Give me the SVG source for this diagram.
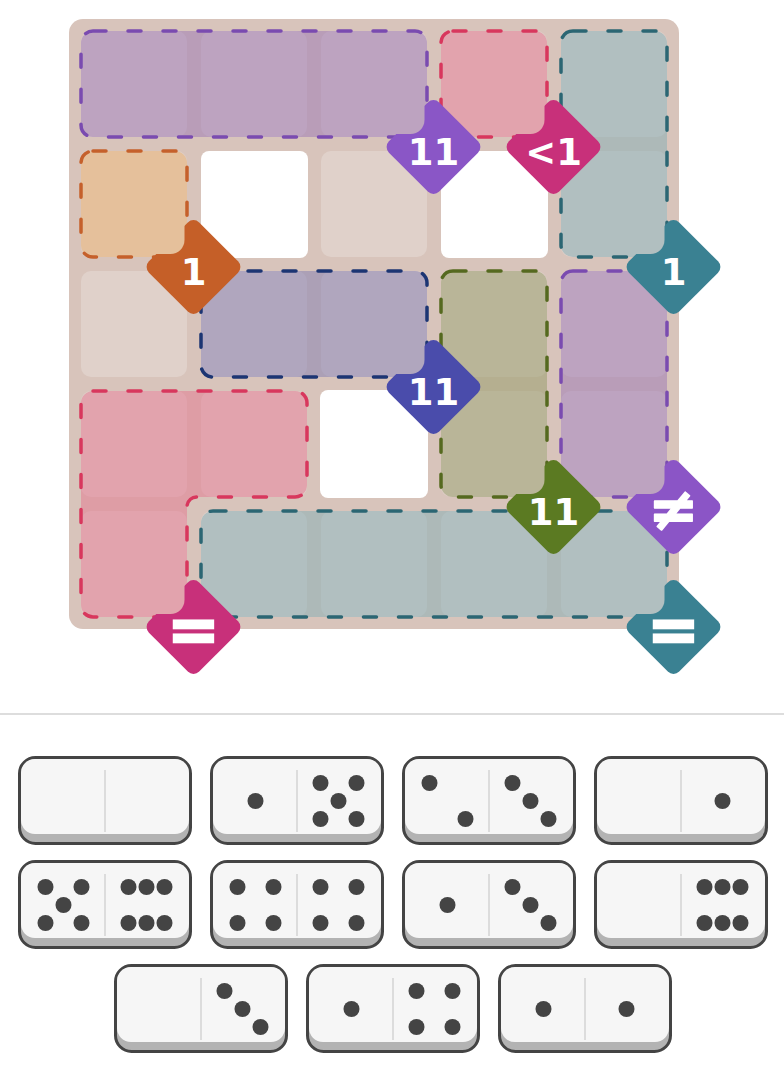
<svg xmlns="http://www.w3.org/2000/svg" width="784" height="1069" viewBox="0 0 784 1069">
<defs>
<style>
.board{fill:#d8c4bb}
.cell{fill:#e0d1ca}
.hole{fill:#ffffff}
.reg{fill-opacity:.5;stroke-width:3.5;stroke-dasharray:13 22;stroke-linecap:round}
.dm text{font-family:"DejaVu Sans","Liberation Sans",sans-serif;font-weight:bold;fill:#fff;text-anchor:middle}
.num{font-size:37px}
.sym{font-size:62px;stroke:#fff;stroke-width:2.5;stroke-linejoin:miter}
.neq{font-size:60px;stroke:#fff;stroke-width:1.5;stroke-linejoin:round}
.body{fill:#b3b3b3;stroke:#444;stroke-width:3}
.face{fill:#f6f6f6}
.sep{stroke:#dcdcdc;stroke-width:2}
.pip{fill:#444}
</style>
<mask id="bite" maskUnits="userSpaceOnUse" x="-60" y="-60" width="120" height="120">
<rect x="-60" y="-60" width="120" height="120" fill="#fff"/>
<rect x="-160" y="-160" width="151" height="147" rx="14" fill="#000"/>
</mask>
<rect id="dia" x="-35.5" y="-35.5" width="71" height="71" rx="8" transform="rotate(45)"/>
<g id="domino">
<rect class="body" x="0" y="0" width="171" height="86" rx="16"/>
<rect class="face" x="1.5" y="1.5" width="168" height="75" rx="14"/>
<line class="sep" x1="85.5" y1="12.5" x2="85.5" y2="74.5"/>
</g>
<circle id="p" r="8" class="pip"/>
</defs>

<rect x="0" y="0" width="784" height="1069" fill="#ffffff"/>

<g id="board">
<rect class="board" x="69" y="19" width="610" height="610" rx="14"/>
</g>

<g id="cells">
<rect class="cell" x="81" y="31" width="106" height="106" rx="10"/>
<rect class="cell" x="201" y="31" width="106" height="106" rx="10"/>
<rect class="cell" x="321" y="31" width="106" height="106" rx="10"/>
<rect class="cell" x="441" y="31" width="106" height="106" rx="10"/>
<rect class="cell" x="561" y="31" width="106" height="106" rx="10"/>
<rect class="cell" x="81" y="151" width="106" height="106" rx="10"/>
<rect class="hole" x="201" y="151" width="107" height="107" rx="8"/>
<rect class="cell" x="321" y="151" width="106" height="106" rx="10"/>
<rect class="hole" x="441" y="151" width="107" height="107" rx="8"/>
<rect class="cell" x="561" y="151" width="106" height="106" rx="10"/>
<rect class="cell" x="81" y="271" width="106" height="106" rx="10"/>
<rect class="cell" x="201" y="271" width="106" height="106" rx="10"/>
<rect class="cell" x="321" y="271" width="106" height="106" rx="10"/>
<rect class="cell" x="441" y="271" width="106" height="106" rx="10"/>
<rect class="cell" x="561" y="271" width="106" height="106" rx="10"/>
<rect class="cell" x="81" y="391" width="106" height="106" rx="10"/>
<rect class="cell" x="201" y="391" width="106" height="106" rx="10"/>
<rect class="hole" x="320" y="390" width="108" height="108" rx="8"/>
<rect class="cell" x="441" y="391" width="106" height="106" rx="10"/>
<rect class="cell" x="561" y="391" width="106" height="106" rx="10"/>
<rect class="cell" x="81" y="511" width="106" height="106" rx="10"/>
<rect class="cell" x="201" y="511" width="106" height="106" rx="10"/>
<rect class="cell" x="321" y="511" width="106" height="106" rx="10"/>
<rect class="cell" x="441" y="511" width="106" height="106" rx="10"/>
<rect class="cell" x="561" y="511" width="106" height="106" rx="10"/>
</g>

<g id="regions">
<g id="region-A"><rect class="reg" x="81" y="31" width="346" height="106" rx="12" fill="#9a75b5" stroke="#7a4bb0"/></g>
<g id="region-B"><rect class="reg" x="441" y="31" width="106" height="106" rx="12" fill="#e47690" stroke="#d8375d"/></g>
<g id="region-C"><rect class="reg" x="561" y="31" width="106" height="226" rx="12" fill="#82aeb6" stroke="#2b6673"/></g>
<g id="region-D"><rect class="reg" x="81" y="151" width="106" height="106" rx="12" fill="#eab06c" stroke="#c5602b"/></g>
<g id="region-E"><rect class="reg" x="201" y="271" width="226" height="106" rx="12" fill="#807cb2" stroke="#1c3573"/></g>
<g id="region-F"><rect class="reg" x="441" y="271" width="106" height="226" rx="12" fill="#929a66" stroke="#55691f"/></g>
<g id="region-G"><rect class="reg" x="561" y="271" width="106" height="226" rx="12" fill="#9a75b5" stroke="#7a4bb0"/></g>
<g id="region-H"><path class="reg" d="M93,391 H295 A12,12 0 0 1 307,403 V485 A12,12 0 0 1 295,497 H197 A10,10 0 0 0 187,507 V605 A12,12 0 0 1 175,617 H93 A12,12 0 0 1 81,605 V403 A12,12 0 0 1 93,391 Z" fill="#e47690" stroke="#d8375d"/></g>
<g id="region-I"><rect class="reg" x="201" y="511" width="466" height="106" rx="12" fill="#82aeb6" stroke="#2b6673"/></g>
</g>

<g id="connectors"></g>

<g id="labels">
<g id="label-A" class="dm" transform="translate(433.5,147)"><g mask="url(#bite)"><use href="#dia" fill="#8a56c6"/></g><text class="num" y="18">11</text></g>
<g id="label-B" class="dm" transform="translate(553.5,147)"><g mask="url(#bite)"><use href="#dia" fill="#c8307a"/></g><text class="num" y="18">&lt;1</text></g>
<g id="label-C" class="dm" transform="translate(673.5,267)"><g mask="url(#bite)"><use href="#dia" fill="#3a8192"/></g><text class="num" y="18">1</text></g>
<g id="label-D" class="dm" transform="translate(193.5,267)"><g mask="url(#bite)"><use href="#dia" fill="#c55f28"/></g><text class="num" y="18">1</text></g>
<g id="label-E" class="dm" transform="translate(433.5,387)"><g mask="url(#bite)"><use href="#dia" fill="#4a4cab"/></g><text class="num" y="18">11</text></g>
<g id="label-F" class="dm" transform="translate(553.5,507)"><g mask="url(#bite)"><use href="#dia" fill="#5b7a22"/></g><text class="num" y="18">11</text></g>
<g id="label-G" class="dm" transform="translate(673.5,507)"><g mask="url(#bite)"><use href="#dia" fill="#8b55c6"/></g><text class="neq" y="23">≠</text></g>
<g id="label-H" class="dm" transform="translate(193.5,627)"><g mask="url(#bite)"><use href="#dia" fill="#c8307a"/></g><text class="sym" y="24">=</text></g>
<g id="label-I" class="dm" transform="translate(673.5,627)"><g mask="url(#bite)"><use href="#dia" fill="#3a8192"/></g><text class="sym" y="24">=</text></g>
</g>

<g id="divider"><line x1="0" y1="714" x2="784" y2="714" stroke="#dddddd" stroke-width="2"/></g>

<g id="dominoes">
<g id="domino-0-0" transform="translate(19.5,757.5)"><use href="#domino"/></g>
<g id="domino-1-5" transform="translate(211.5,757.5)"><use href="#domino"/>
<use href="#p" x="44" y="43.5"/>
<use href="#p" x="109" y="25.5"/><use href="#p" x="145" y="25.5"/><use href="#p" x="127" y="43.5"/><use href="#p" x="109" y="61.5"/><use href="#p" x="145" y="61.5"/></g>
<g id="domino-2-3" transform="translate(403.5,757.5)"><use href="#domino"/>
<use href="#p" x="26" y="25.5"/><use href="#p" x="62" y="61.5"/>
<use href="#p" x="109" y="25.5"/><use href="#p" x="127" y="43.5"/><use href="#p" x="145" y="61.5"/></g>
<g id="domino-0-1" transform="translate(595.5,757.5)"><use href="#domino"/>
<use href="#p" x="127" y="43.5"/></g>

<g id="domino-5-6" transform="translate(19.5,861.5)"><use href="#domino"/>
<use href="#p" x="26" y="25.5"/><use href="#p" x="62" y="25.5"/><use href="#p" x="44" y="43.5"/><use href="#p" x="26" y="61.5"/><use href="#p" x="62" y="61.5"/>
<use href="#p" x="109" y="25.5"/><use href="#p" x="127" y="25.5"/><use href="#p" x="145" y="25.5"/><use href="#p" x="109" y="61.5"/><use href="#p" x="127" y="61.5"/><use href="#p" x="145" y="61.5"/></g>
<g id="domino-4-4" transform="translate(211.5,861.5)"><use href="#domino"/>
<use href="#p" x="26" y="25.5"/><use href="#p" x="62" y="25.5"/><use href="#p" x="26" y="61.5"/><use href="#p" x="62" y="61.5"/>
<use href="#p" x="109" y="25.5"/><use href="#p" x="145" y="25.5"/><use href="#p" x="109" y="61.5"/><use href="#p" x="145" y="61.5"/></g>
<g id="domino-1-3" transform="translate(403.5,861.5)"><use href="#domino"/>
<use href="#p" x="44" y="43.5"/>
<use href="#p" x="109" y="25.5"/><use href="#p" x="127" y="43.5"/><use href="#p" x="145" y="61.5"/></g>
<g id="domino-0-6" transform="translate(595.5,861.5)"><use href="#domino"/>
<use href="#p" x="109" y="25.5"/><use href="#p" x="127" y="25.5"/><use href="#p" x="145" y="25.5"/><use href="#p" x="109" y="61.5"/><use href="#p" x="127" y="61.5"/><use href="#p" x="145" y="61.5"/></g>

<g id="domino-0-3" transform="translate(115.5,965.5)"><use href="#domino"/>
<use href="#p" x="109" y="25.5"/><use href="#p" x="127" y="43.5"/><use href="#p" x="145" y="61.5"/></g>
<g id="domino-1-4" transform="translate(307.5,965.5)"><use href="#domino"/>
<use href="#p" x="44" y="43.5"/>
<use href="#p" x="109" y="25.5"/><use href="#p" x="145" y="25.5"/><use href="#p" x="109" y="61.5"/><use href="#p" x="145" y="61.5"/></g>
<g id="domino-1-1" transform="translate(499.5,965.5)"><use href="#domino"/>
<use href="#p" x="44" y="43.5"/>
<use href="#p" x="127" y="43.5"/></g>
</g>
</svg>
